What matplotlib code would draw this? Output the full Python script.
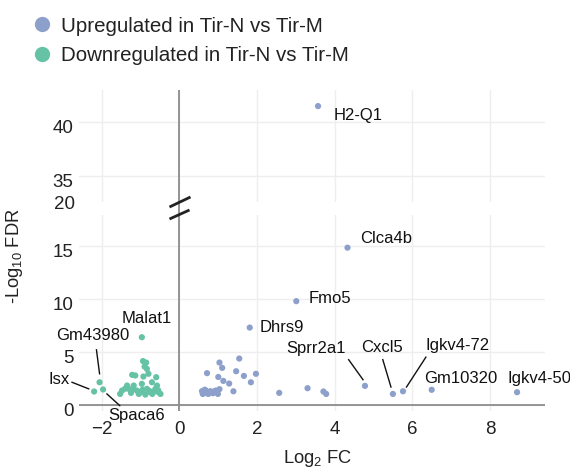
import matplotlib
matplotlib.use("Agg")
import matplotlib.pyplot as plt
from matplotlib.lines import Line2D
from matplotlib.transforms import ScaledTranslation

plt.rcParams['font.family'] = ['Liberation Sans', 'DejaVu Sans']
plt.rcParams['mathtext.default'] = 'regular'

# ---------------- data ----------------
up_x = [3.57, 4.33, 3.01, 1.81, 2.57, 3.30, 3.71, 3.78, 4.78, 5.50, 5.76, 6.50, 8.70,
        0.71, 1.03, 1.10, 1.54, 1.46, 1.66, 1.97, 1.84, 1.00, 1.13, 1.28, 1.39,
        0.58, 0.63, 0.68, 0.74, 0.80, 0.86, 0.93, 0.99, 1.03, 0.60, 0.70, 0.90, 0.65]
up_y = [41.5, 14.8, 9.75, 7.26, 1.10, 1.54, 1.23, 1.00, 1.76, 1.00, 1.25, 1.39, 1.16,
        2.96, 3.96, 3.46, 4.34, 3.14, 2.70, 2.90, 2.10, 2.60, 2.23, 1.98, 1.25,
        1.26, 1.07, 1.32, 1.00, 1.26, 1.07, 1.32, 1.00, 1.45, 1.00, 1.15, 1.20, 1.40]

down_x = [-0.97, -2.06, -2.20, -1.97,
          -0.94, -0.86, -0.90, -0.84, -1.22, -1.14, -0.93, -0.80, -0.60,
          -1.35, -1.18, -0.97, -0.71, -1.48, -1.53, -1.31, -1.10, -1.01, -0.84,
          -0.75, -0.62, -0.54, -0.49, -0.88, -0.58,
          -1.25, -1.05, -0.70, -0.55, -0.65, -0.78, -0.95, -1.40, -1.20]
down_y = [6.35, 2.10, 1.23, 1.42,
          4.10, 3.96, 3.58, 3.36, 2.80, 2.74, 2.64, 2.90, 2.58,
          1.79, 1.79, 1.95, 2.10, 1.32, 1.00, 1.48, 1.32, 1.16, 1.48,
          1.16, 1.48, 1.16, 1.00, 0.94, 1.79,
          1.10, 1.00, 1.00, 1.35, 1.25, 1.30, 1.40, 1.50, 1.45]

# labelled genes: name, text x, text y, ha, leader line (x0, y0, x1, y1) or None
labels = [
    ("Clca4b", 4.66, 15.7, "left", None),
    ("Fmo5", 3.33, 9.97, "left", None),
    ("Dhrs9", 2.06, 7.26, "left", None),
    ("Sprr2a1", 3.51, 5.25, "center", (4.36, 4.23, 4.73, 2.34)),
    ("Cxcl5", 5.23, 5.35, "center", (5.24, 4.23, 5.45, 1.65)),
    ("Igkv4-72", 7.17, 5.57, "center", (6.35, 4.47, 5.85, 1.65)),
    ("Gm10320", 7.26, 2.42, "center", None),
    ("Igkv4-50", 9.27, 2.42, "center", None),
    ("Malat1", -0.84, 8.08, "center", None),
    ("Gm43980", -2.24, 6.50, "center", (-2.14, 5.16, -2.06, 2.90)),
    ("Isx", -2.83, 2.33, "right", (-2.77, 2.10, -2.34, 1.48)),
    ("Spaca6", -1.10, -1.00, "center", (-1.87, 1.00, -1.54, -0.10)),
]
top_labels = [("H2-Q1", 3.96, 40.6, "left", None)]

x_ticks = [-2, 0, 2, 4, 6, 8]
bottom_yticks = [0, 5, 10, 15]
top_yticks = [35, 40]

up_color = "#8DA0CB"
down_color = "#66C2A5"
grid_color = "#eeeeee"
axis_color = "#8c8c8c"
text_color = "#222222"
TICK_FS = 13.5

W, H = 570, 469
fig = plt.figure(figsize=(W / 100, H / 100), dpi=100)

left = 79 / W
width = (545 - 79) / W
ax_b = fig.add_axes([left, 1 - 411 / H, width, (411 - 215) / H])
ax_t = fig.add_axes([left, 1 - 202 / H, width, (202 - 90) / H])

xlim = (-2.59, 9.42)
for ax in (ax_b, ax_t):
    ax.set_xlim(*xlim)
    for s in ax.spines.values():
        s.set_visible(False)
    ax.set_xticks(x_ticks)
    ax.tick_params(length=0, labelsize=TICK_FS, colors=text_color)
    ax.grid(True, color=grid_color, lw=1)
    ax.set_axisbelow(True)
    ax.axvline(0, color=axis_color, lw=1.3, zorder=1)

ax_b.set_ylim(-0.61, 17.88)
ax_t.set_ylim(32.62, 42.99)
ax_b.set_yticks(bottom_yticks)
ax_t.set_yticks(top_yticks)
ax_t.tick_params(axis="x", labelbottom=False)
ax_b.tick_params(axis="x", pad=7.5)
ax_b.tick_params(axis="y", pad=4)
ax_t.tick_params(axis="y", pad=4)
ax_b.axhline(0, color=axis_color, lw=1.3, zorder=1)

# shift y tick labels slightly down like the reference
off_b = ScaledTranslation(0, -5 / 100, fig.dpi_scale_trans)
off_t = ScaledTranslation(0, -4 / 100, fig.dpi_scale_trans)
for ax, off in ((ax_b, off_b), (ax_t, off_t)):
    for lab in ax.get_yticklabels():
        lab.set_transform(lab.get_transform() + off)

# "20" label for the lower segment
ax_b.text(-0.0086, 19.1, "20", transform=ax_b.get_yaxis_transform(), ha="right",
          va="center_baseline", fontsize=TICK_FS, color=text_color, clip_on=False)

for ax in (ax_b, ax_t):
    ax.scatter(up_x, up_y, s=20, color=up_color, edgecolors="none", zorder=3)
    ax.scatter(down_x, down_y, s=20, color=down_color, edgecolors="none", zorder=3)

def put_labels(ax, items):
    for name, tx, ty, ha, line in items:
        ax.text(tx, ty, name, ha=ha, va="center", fontsize=12, color="#111111", clip_on=False, zorder=4)
        if line is not None:
            ax.plot([line[0], line[2]], [line[1], line[3]], color="#111111", lw=1, clip_on=False, zorder=4)

put_labels(ax_b, labels)
put_labels(ax_t, top_labels)

# connect the vertical zero line through the gap and draw the break marks
fig.canvas.draw()
x0_disp = ax_b.transData.transform((0, 0))[0]
x0 = x0_disp / W
fig.add_artist(Line2D([x0, x0], [1 - 215 / H, 1 - 202 / H], transform=fig.transFigure,
                      color=axis_color, lw=1.3))
xp = x0_disp
for (a, b, c, d) in [((xp - 10), 207, (xp + 11), 197), ((xp - 10), 219, (xp + 10), 210)]:
    fig.add_artist(Line2D([a / W, c / W], [1 - b / H, 1 - d / H], transform=fig.transFigure,
                          color="#222222", lw=2, solid_capstyle="butt"))

# axis titles
fig.text(317.5 / W, 1 - 458 / H, "Log$_2$ FC", ha="center", va="center", fontsize=13.2, color=text_color)
fig.text(15 / W, 1 - 256 / H, "-Log$_{10}$ FDR", ha="center", va="center", rotation=90,
         fontsize=13.2, color=text_color)

# legend
handles = [Line2D([], [], marker="o", ls="none", color=up_color, markersize=11, markeredgewidth=0),
           Line2D([], [], marker="o", ls="none", color=down_color, markersize=11, markeredgewidth=0)]
fig.legend(handles, ["Upregulated in Tir-N vs Tir-M", "Downregulated in Tir-N vs Tir-M"],
           loc="upper left", bbox_to_anchor=(32 / W, 1 - 16.5 / H), frameon=False,
           fontsize=14.8, handlelength=1.0, handletextpad=0.4, labelspacing=0.5,
           borderpad=0, borderaxespad=0, labelcolor=text_color)

fig.savefig("out.png", dpi=100)
